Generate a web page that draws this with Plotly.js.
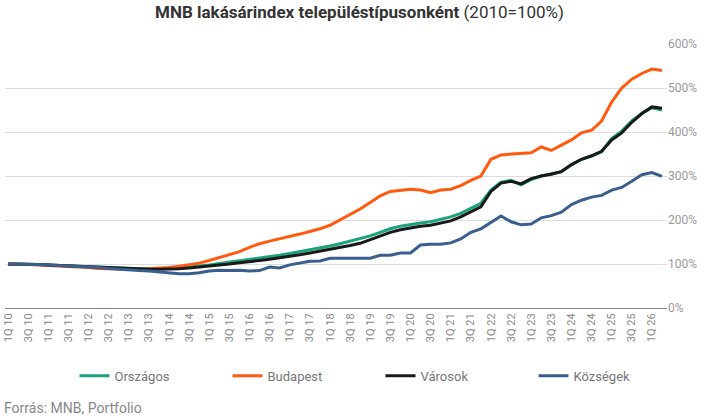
<!DOCTYPE html>
<html>
<head>
<meta charset="utf-8">
<script src="https://cdn.plot.ly/plotly-3.0.1.min.js"></script>
<style>body{margin:0;background:#fff}#chart{width:719px;height:419px}</style>
</head>
<body>
<div id="chart"></div>
<script>
// negyedévek 1Q 10 .. 2Q 26
const quarters = [];
for (let y = 10; y <= 26; y++) {
    for (let q = 1; q <= 4; q++) {
        if (y === 26 && q > 2) break;
        quarters.push(q + "Q " + y);
    }
}
const tickLabels = quarters.filter(q => q.startsWith("1Q") || q.startsWith("3Q"));

const orszagos = [
    100,100,99,99, 98,97,96,95, 94,93,91,90, 89,89,89,89,
    90,91,93,95, 98,101,104,107, 111,114,117,120, 124,128,133,137,
    141,146,152,157, 164,172,180,186, 190,193,196,202, 207,215,226,238,
    268,286,290,280, 292,300,305,310, 325,338,345,355, 385,402,425,442,
    455,450
];
const budapest = [
    100,100,99,98, 97,96,95,94, 92,90,89,88, 88,88,89,90,
    92,95,98,102, 108,115,122,128, 138,146,152,157, 162,168,174,180,
    188,200,212,225, 240,255,265,268, 270,268,262,268, 270,278,290,300,
    338,348,350,352, 353,366,358,370, 382,398,404,425, 468,500,520,533,
    543,540
];
const varosok = [
    100,100,99,99, 98,97,96,95, 94,93,91,90, 89,88,88,88,
    88,89,91,93, 96,98,100,103, 105,108,111,114, 117,121,125,129,
    133,137,142,147, 155,163,172,178, 182,186,188,193, 198,207,218,230,
    265,284,288,282, 294,300,304,310, 326,338,346,356, 382,398,422,442,
    457,454
];
const kozsegek = [
    100,100,99,99, 98,97,96,95, 94,92,90,88, 86,85,84,82,
    79,78,78,80, 84,86,85,86, 84,85,93,91, 98,102,106,107,
    113,113,113,112, 113,120,120,125, 125,143,145,145, 148,157,172,180,
    195,209,196,189, 191,205,210,218, 235,245,252,256, 268,274,288,303,
    308,299
];

function line(name, ys, color) {
    return { x: quarters, y: ys, name, mode: 'lines', type: 'scatter',
             line: { color, width: 3 } };
}

const data = [
    line('Országos', orszagos, '#1aa37a'),
    line('Budapest', budapest, '#ff5a10'),
    line('Városok', varosok, '#1a1a1a'),
    line('Községek', kozsegek, '#3a5f8f')
];

const layout = {
    width: 719, height: 419,
    margin: { l: 5, r: 52, t: 44, b: 111 },
    font: { family: 'Roboto, sans-serif', color: '#888' },
    paper_bgcolor: '#fff', plot_bgcolor: '#fff',
    title: { text: '<b>MNB lakásárindex településtípusonként</b> (2010=100%)',
             font: { size: 17, color: '#333' }, x: 0.5, y: 0.985, yanchor: 'top' },
    xaxis: {
        type: 'category', tickmode: 'array', tickvals: tickLabels, ticktext: tickLabels,
        tickangle: -90, tickfont: { size: 11, color: '#888' },
        showgrid: false, showline: true, linecolor: '#888', linewidth: 1,
        range: [-0.3, quarters.length - 0.5]
    },
    yaxis: {
        side: 'right', range: [0, 600], dtick: 100, ticksuffix: '%',
        tickfont: { size: 12, color: '#999' }, gridcolor: '#ddd', zeroline: false
    },
    showlegend: true,
    legend: { orientation: 'h', x: 0.105, xanchor: 'left', y: -0.2, yanchor: 'top',
              font: { size: 13, color: '#777' }, traceorder: 'normal',
              entrywidth: 108, entrywidthmode: 'pixels' },
    annotations: [{
        text: 'Forrás: MNB, Portfolio', xref: 'paper', yref: 'paper', x: -0.005, y: -0.34,
        xanchor: 'left', yanchor: 'top', showarrow: false, font: { size: 14, color: '#888' }
    }]
};

Plotly.newPlot('chart', data, layout, { displayModeBar: false });
</script>
</body>
</html>
